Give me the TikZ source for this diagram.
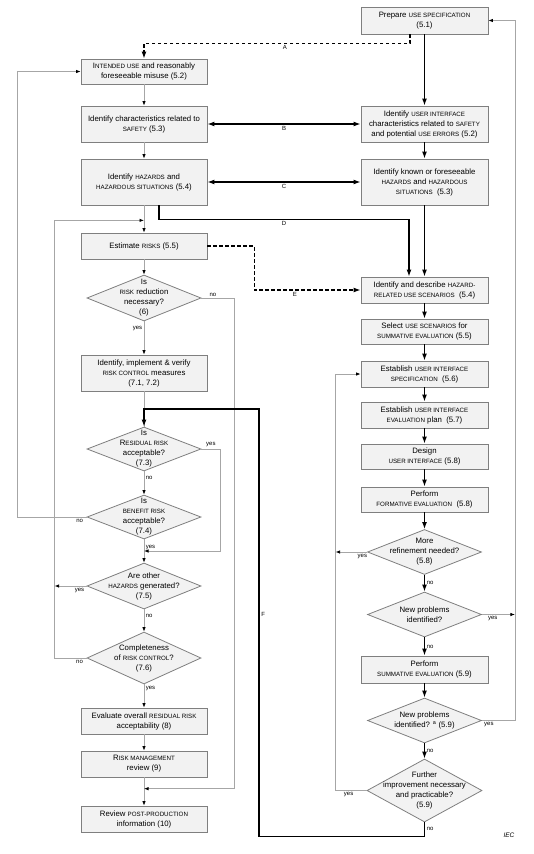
\documentclass[tikz,border=0pt]{standalone}
\usepackage{fontspec}
\setmainfont{Liberation Sans}
\usetikzlibrary{arrows.meta,shapes.geometric,calc}
\definecolor{boxfill}{HTML}{F2F2F2}
\definecolor{boxline}{HTML}{7F7F7F}
\definecolor{flowgray}{HTML}{A6A6A6}
\newcommand\sca[1]{{\fontsize{6.2}{10}\selectfont #1}}
\newcommand\flowfont{\fontsize{7.8}{10}\selectfont}
\begin{document}
\begin{tikzpicture}[x=1pt,y=-1pt,
  box/.style={draw=boxline, fill=boxfill, line width=0.8pt, minimum width=126pt, minimum height=26pt, inner sep=0pt, align=center, font=\flowfont},
  dec/.style={diamond, draw=boxline, fill=boxfill, line width=0.8pt, minimum width=114pt, minimum height=46pt, inner sep=0pt},
  dtxt/.style={align=center, font=\flowfont, inner sep=0pt},
  lbl/.style={font=\fontsize{6}{7}\selectfont, inner sep=1.5pt, text=black},
  tk/.style={line width=1.5pt, black},
  tka/.style={tk, -{Latex[length=7pt,width=5pt]}},
  tkb/.style={tk, {Latex[length=7pt,width=5pt]}-{Latex[length=7pt,width=5pt]}},
  dsh/.style={tka, dash pattern=on 3.5pt off 2.5pt},
  tn/.style={line width=0.8pt, flowgray},
  tna/.style={tn, -{Latex[length=4.5pt,width=3.5pt,color=black]}}]
\useasboundingbox (0,0) rectangle (534,854);
% left column
\node[box, minimum height=25pt] (use) at (144,71.5) {I\sca{NTENDED USE} and reasonably\\foreseeable misuse (5.2)};
\node[box, minimum height=36pt] (safety) at (144,124) {Identify characteristics related to\\\sca{SAFETY} (5.3)};
\node[box, minimum height=46pt] (hazards) at (144,182) {Identify \sca{HAZARDS} and\\\sca{HAZARDOUS SITUATIONS} (5.4)};
\node[box] (estimate) at (144,246) {Estimate \sca{RISKS} (5.5)};
\node[dec] (reduce) at (144,298) {};
\node[dtxt] (reducet) at (reduce) {Is\\\sca{RISK} reduction\\necessary?\\(6)};
\node[box, minimum height=36pt] (control) at (144,373) {Identify, implement \& verify\\\sca{RISK CONTROL} measures\\(7.1, 7.2)};
\node[dec, minimum height=44pt] (residual) at (144,449) {};
\node[dtxt] (residualt) at (residual) {Is\\R\sca{ESIDUAL RISK}\\acceptable?\\(7.3)};
\node[dec, minimum height=44pt] (benefit) at (144,517) {};
\node[dtxt] (benefitt) at (benefit) {Is\\\sca{BENEFIT RISK}\\acceptable?\\(7.4)};
\node[dec] (other) at (144,586) {};
\node[dtxt] (othert) at (other) {Are other\\\sca{HAZARDS} generated?\\(7.5)};
\node[dec, minimum height=52pt] (complete) at (144,658) {};
\node[dtxt] (completet) at (complete) {Completeness\\of \sca{RISK CONTROL}?\\(7.6)};
\node[box] (overall) at (144,721) {Evaluate overall \sca{RESIDUAL RISK}\\acceptability (8)};
\node[box] (review) at (144,764) {R\sca{ISK MANAGEMENT}\\review (9)};
\node[box] (post) at (144,819) {Review \sca{POST-PRODUCTION}\\information (10)};
% right column
\node[box, minimum width=127pt, minimum height=27pt] (spec) at (424.5,20.5) {Prepare \sca{USE SPECIFICATION}\\(5.1)};
\node[box, minimum width=127pt, minimum height=36pt] (uiident) at (424.5,124) {Identify \sca{USER INTERFACE}\\characteristics related to \sca{SAFETY}\\and potential \sca{USE ERRORS} (5.2)};
\node[box, minimum width=127pt, minimum height=46pt] (known) at (424.5,182) {Identify known or foreseeable\\\sca{HAZARDS} and \sca{HAZARDOUS}\\\sca{SITUATIONS}\ \ (5.3)};
\node[box, minimum width=127pt] (scen) at (424.5,290) {Identify and describe \sca{HAZARD-}\\\sca{RELATED USE SCENARIOS}\ \ (5.4)};
\node[box, minimum width=127pt, minimum height=25pt] (select) at (424.5,331.5) {Select \sca{USE SCENARIOS} for\\\sca{SUMMATIVE EVALUATION} (5.5)};
\node[box, minimum width=127pt] (uispec) at (424.5,374) {Establish \sca{USER INTERFACE}\\\sca{SPECIFICATION}\ \ (5.6)};
\node[box, minimum width=127pt] (evalplan) at (424.5,415) {Establish \sca{USER INTERFACE}\\\sca{EVALUATION} plan\ \ (5.7)};
\node[box, minimum width=127pt, minimum height=25pt] (design) at (424.5,456.5) {Design\\\sca{USER INTERFACE} (5.8)};
\node[box, minimum width=127pt, minimum height=25pt] (formative) at (424.5,499.5) {Perform\\\sca{FORMATIVE EVALUATION}\ \ (5.8)};
\node[dec, minimum height=45pt] (refine) at (424.5,552) {};
\node[dtxt] (refinet) at (refine) {More\\refinement needed?\\(5.8)};
\node[dec, minimum height=45pt] (newprob) at (424.5,614.5) {};
\node[dtxt] (newprobt) at (newprob) {New problems\\identified?};
\node[box, minimum width=127pt, minimum height=27pt] (summative) at (424.5,669.5) {Perform\\\sca{SUMMATIVE EVALUATION} (5.9)};
\node[dec, minimum height=45pt] (newprobb) at (424.5,720.5) {};
\node[dtxt] (newprobbt) at (newprobb) {New problems\\identified? \textsuperscript{a} (5.9)};
\node[dec, minimum width=115pt, minimum height=63pt] (further) at (424.5,790.5) {};
\node[dtxt] (furthert) at (further) {Further\\improvement necessary\\and practicable?\\(5.9)};
\node[font=\itshape\fontsize{6.5}{7}\selectfont] (iec) at (509,835) {IEC};
% junctions
\coordinate (jA) at ($(hazards.south)!0.55!(estimate.north)$);
\coordinate (jB) at ($(benefit.south)!0.5!(other.north)$);
\coordinate (jC) at ($(review.south)!0.4!(post.north)$);
\coordinate (fTop) at ($(control.south)!0.5!(residual.north)$);
\coordinate (loopL) at ([xshift=-32pt]complete.west);
\coordinate (loopN) at ([xshift=-69pt]benefit.west);
\coordinate (loopR) at ([xshift=-31pt]further.west);
\coordinate (loopS) at ([xshift=33pt]newprobb.east);
% left flow
\foreach \a/\b in {use/safety, safety/hazards, hazards/estimate, estimate/reduce, overall/review, review/post}
  \path[draw,tna] (\a) -- (\b);
\path[draw,tna] (reduce) -- node[lbl,left,pos=0.2] {yes} (control);
\path[draw,tn] (control) -- (residual);
\path[draw,tna] (residual) -- node[lbl,right,pos=0.3] {no} (benefit);
\path[draw,tna] (benefit) -- node[lbl,right,pos=0.35] {yes} (other);
\path[draw,tna] (other) -- node[lbl,right,pos=0.3] {no} (complete);
\path[draw,tna] (complete) -- node[lbl,right,pos=0.17] {yes} (overall);
\path[draw,tna] (reduce.east) -- node[lbl,pos=0.35,above] {no} ++(33,0) |- (jC);
\path[draw,tna] (residual.east) -- node[lbl,above] {yes} ++(19,0) |- (jB);
\path[draw,tna] (benefit.west) -- node[lbl,pos=0.1,below] {no} (loopN) |- (use.west);
\path[draw,tna] (complete.west) -- node[lbl,pos=0.22,below] {no} (loopL) |- (jA);
\path[draw,tna] (other.west) -- node[lbl,pos=0.22,below] {yes} (other.west -| loopL);
% right loops
\path[draw,tna] (further.west) -- node[lbl,pos=0.58,below] {yes} (loopR) |- (uispec.west);
\path[draw,tna] (refine.west) -- node[lbl,pos=0.15,below] {yes} (refine.west -| loopR);
\path[draw,tna] (newprobb.east) -- node[lbl,pos=0.21,below] {yes} (loopS) |- (spec.east);
\path[draw,tna] (newprob.east) -- node[lbl,pos=0.33,below] {yes} (newprob.east -| loopS);
% right flow
\foreach \a/\b in {spec/uiident, uiident/known, known/scen, scen/select, select/uispec, uispec/evalplan, evalplan/design, design/formative, formative/refine, summative/newprobb}
  \path[draw,tka] (\a) -- (\b);
\path[draw,tka] (refine) -- node[lbl,right] {no} (newprob);
\path[draw,tka] (newprob) -- node[lbl,right] {no} (summative);
\path[draw,tka] (newprobb) -- node[lbl,right] {no} (further);
% links A to F
\path[draw,dsh] ([xshift=-14.5pt]spec.south) -- ++(0,9) -| node[lbl,pos=0.235,below] {A} (use.north);
\path[draw,tkb] (safety) -- node[lbl,below] {B} (uiident);
\path[draw,tkb] (hazards) -- node[lbl,below] {C} (known);
\path[draw,tka] ([xshift=15pt]hazards.south) -- ++(0,14) -| node[lbl,pos=0.25,below] {D} ([xshift=-15.5pt]scen.north);
\path[draw,dsh] (estimate.east) -- ++(47,0) |- node[lbl,pos=0.69,below] {E} (scen.west);
\path[draw,tka] (further.south) -- node[lbl,right] {no} ++(0,14) -| node[lbl,pos=0.76,right] {F} ([xshift=115pt]fTop) -- (fTop) -- (residual.north);
\end{tikzpicture}
\end{document}
